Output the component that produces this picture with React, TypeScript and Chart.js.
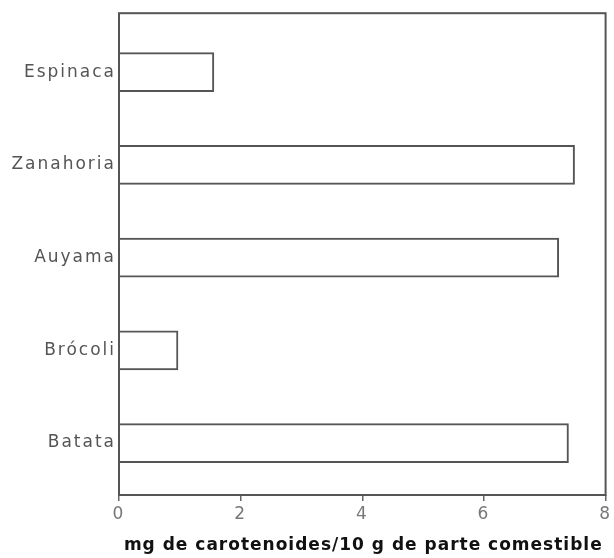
import React, { useEffect, useRef } from "react";
import { Chart, registerables } from "chart.js";

Chart.register(...registerables);

const categories: string[] = ["Espinaca", "Zanahoria", "Auyama", "Brócoli", "Batata"];
const values: number[] = [1.56, 7.49, 7.23, 0.97, 7.39];
const xTicks: number[] = [0, 2, 4, 6, 8];
const xTitle = "mg de carotenoides/10 g de parte comestible";

export default function App() {
  const ref = useRef<HTMLCanvasElement | null>(null);

  useEffect(() => {
    if (!ref.current) return;

    const framePlugin = {
      id: "frame",
      beforeDraw(chart: any) {
        chart.ctx.letterSpacing = "2px";
      },
      afterDraw(chart: any) {
        const { ctx, chartArea } = chart;
        ctx.save();
        ctx.strokeStyle = "#555";
        ctx.lineWidth = 2;
        ctx.strokeRect(chartArea.left, chartArea.top, chartArea.right - chartArea.left, chartArea.bottom - chartArea.top);
        ctx.letterSpacing = "1px";
        ctx.fillStyle = "#111";
        ctx.font = "bold 17px 'DejaVu Sans'";
        ctx.textAlign = "center";
        ctx.textBaseline = "middle";
        ctx.fillText(xTitle, (chartArea.left + chartArea.right) / 2 + 1, chartArea.bottom + 51);
        ctx.restore();
      },
    };

    const chart = new Chart(ref.current, {
      type: "bar",
      data: {
        datasets: [
          {
            data: categories.map((_, i) => ({ x: values[i], y: i })),
            backgroundColor: "#ffffff",
            borderColor: "#555",
            borderWidth: 2,
            barThickness: 39,
          },
        ],
      },
      options: {
        indexAxis: "y",
        animation: false,
        responsive: false,
        devicePixelRatio: 1,
        layout: { padding: { top: 13, right: 4, left: 0, bottom: 0 } },
        plugins: { legend: { display: false }, tooltip: { enabled: false } },
        scales: {
          x: {
            type: "linear",
            min: 0,
            max: 8,
            offset: false,
            afterBuildTicks: (s: any) => {
              s.ticks = xTicks.map((v) => ({ value: v }));
            },
            afterFit: (s: any) => {
              s.height = 63;
            },
            border: { display: false },
            grid: { display: true, offset: false, drawOnChartArea: false, drawTicks: true, tickLength: 6, color: "#666", lineWidth: 1.5 },
            ticks: { color: "#777", padding: 3, font: { family: "'DejaVu Sans'", size: 17 } },
          },
          y: {
            type: "linear",
            reverse: true,
            offset: false,
            min: -0.636,
            max: 4.56,
            afterBuildTicks: (s: any) => {
              s.ticks = categories.map((_, i) => ({ value: i }));
            },
            afterFit: (s: any) => {
              s.width = 119;
            },
            border: { display: false },
            grid: { display: false, offset: false, drawTicks: false },
            ticks: {
              color: "#555",
              padding: 3,
              font: { family: "'DejaVu Sans'", size: 17 },
              callback: (v: any) => categories[v as number] ?? "",
            },
          },
        },
      },
      plugins: [framePlugin],
    } as any);

    return () => chart.destroy();
  }, []);

  return (
    <div style={{ position: "absolute", left: 0, top: 0, width: 614, height: 558, background: "#fff" }}>
      <canvas ref={ref} width={614} height={558} />
    </div>
  );
}
